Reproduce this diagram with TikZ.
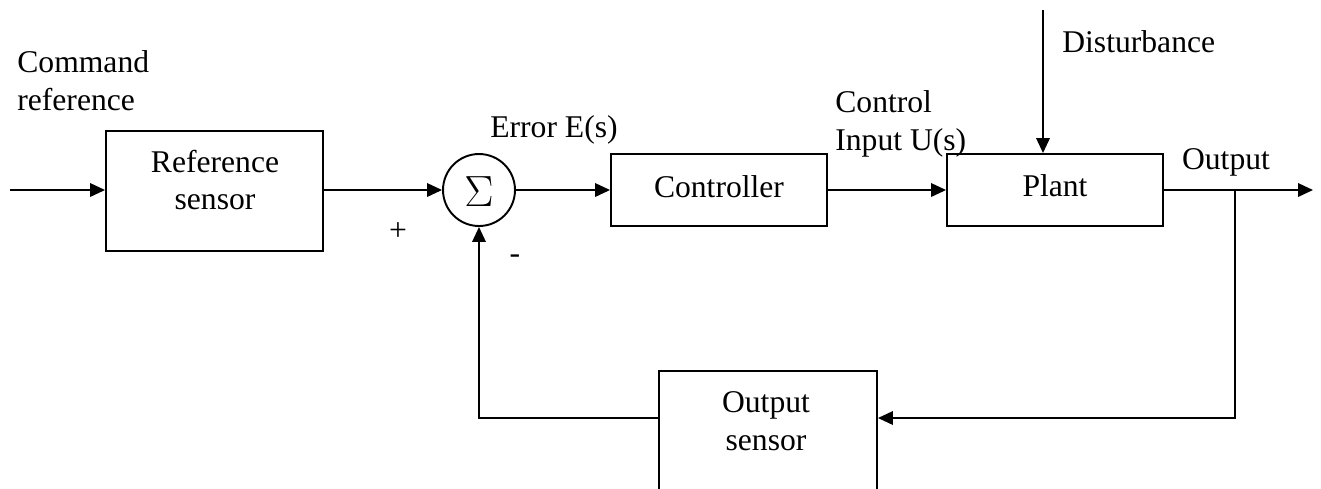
\documentclass[tikz,border=0pt]{standalone}
\usepackage{fontspec}
\setmainfont{Liberation Serif}
\usetikzlibrary{arrows.meta}
\tikzset{
  blk/.style={draw, line width=1.1pt, inner sep=0pt},
  sumnode/.style={draw, circle, line width=1.1pt, minimum size=1.44cm, inner sep=0pt},
  arr/.style={line width=1.1pt, -{Triangle[length=0.3cm,width=0.27cm]}},
  ln/.style={line width=1.1pt},
  txt/.style={inner sep=0pt, align=center, font=\fontsize{18}{21.6}\selectfont},
}

\begin{document}
\begin{tikzpicture}[x=0.02cm, y=-0.02cm]
    \useasboundingbox (0,0) rectangle (1321,488);
    \clip (0,0) rectangle (1321,488);

    % blocks
    \node[blk, minimum width=4.34cm, minimum height=2.4cm] (refbox) at (214.5,191) {};
    \node[txt] (reftxt) at (215,180) {Reference\\sensor};
    \node[sumnode] (sum) at (479,190) {};
    \node[txt, font=\fontsize{24}{28}\selectfont] (sigma) at (479,192) {$\Sigma$};
    \node[blk, minimum width=4.32cm, minimum height=1.44cm] (ctrl) at (719,190) {};
    \node[txt] (ctrltxt) at (719,187) {Controller};
    \node[blk, minimum width=4.32cm, minimum height=1.44cm] (plant) at (1055,190) {};
    \node[txt] (planttxt) at (1055,186) {Plant};
    \node[blk, minimum width=4.36cm, minimum height=2.8cm] (outsens) at (768,441) {};
    \node[txt] (outtxt) at (766,421) {Output\\sensor};

    % free ends
    \coordinate (cin) at (10,190);
    \coordinate (dtop) at (1043,10);
    \coordinate (yend) at (1313,190);
    \coordinate (br) at (1235,190);
    \coordinate (fb) at (1235,418);

    % connectors
    \draw[arr] (cin) -- (cin -| refbox.west);
    \draw[arr] (refbox.east |- sum.west) -- (sum.west);
    \draw[arr] (sum.east) -- (ctrl.west);
    \draw[arr] (ctrl.east) -- (plant.west);
    \draw[arr] (dtop) -- (dtop |- plant.north);
    \draw[arr] (plant.east) -- (yend);
    \draw[arr] (br) -- (fb) -- (fb -| outsens.east);
    \draw[arr] (fb -| outsens.west) -| (sum.south);

    % labels
    \node[txt, align=left, anchor=west] (cmd) at (17,81) {Command\\reference};
    \node[txt] (plus) at (398,232) {+};
    \node[txt] (minus) at (515,259) {-};
    \node[txt] (err) at (554,130) {Error E(s)};
    \node[txt, align=left, anchor=west] (uin) at (835,124) {Control\\Input U(s)};
    \node[txt, anchor=west] (dist) at (1062,42) {Disturbance};
    \node[txt] (outlbl) at (1226,162) {Output};
\end{tikzpicture}
\end{document}
